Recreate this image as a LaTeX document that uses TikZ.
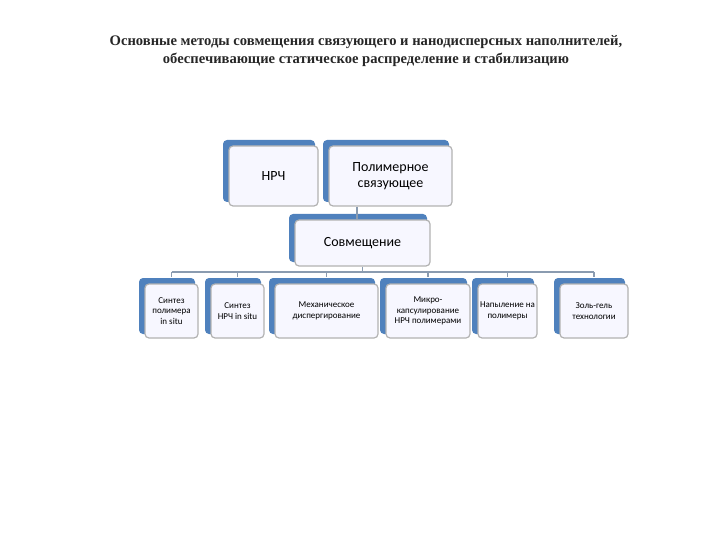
\documentclass[tikz,border=0pt]{standalone}
\usepackage{fontspec}
\setmainfont{Liberation Serif}
\newfontfamily\boxfont{Carlito}
\definecolor{backblue}{HTML}{4F81BD}
\definecolor{lineg}{HTML}{8A9BB0}
\begin{document}
\begin{tikzpicture}[x=1pt,y=-1pt,
 back/.style={fill=backblue, rounded corners=4pt},
 front/.style={draw=gray!60, line width=1.2pt, fill=blue!3, rounded corners=4pt, align=center, font=\boxfont, inner sep=1pt},
 conn/.style={draw=lineg, line width=1.2pt}]
\useasboundingbox (0,0) rectangle (720,540);
\node[font=\bfseries\fontsize{14.6}{18}\selectfont, align=center, text=black!85] (title) at (366,51)
 {Основные методы совмещения связующего и нанодисперсных наполнителей,\\ обеспечивающие статическое распределение и стабилизацию};
\newcommand\mybox[7]{%
 \fill[back] (#1-6,#2-6) rectangle (#3-3,#4-4);
 \node[front, minimum width=#3-#1, minimum height=#4-#2, font=\boxfont#6] (#5) at ({(#1+#3)/2},{(#2+#4)/2}) {#7};}
\mybox{229}{146}{318}{206}{nrc}{\fontsize{14}{16}\selectfont}{НРЧ}
\mybox{329}{146}{452}{206}{pol}{\fontsize{14}{16}\selectfont}{Полимерное\\связующее}
\mybox{295}{220}{430}{266}{sov}{\fontsize{14}{16}\selectfont}{Совмещение}
\mybox{145}{284}{198}{338}{b1}{\fontsize{9}{10.5}\selectfont}{Синтез\\полимера\\in situ}
\mybox{211}{284}{264}{338}{b2}{\fontsize{9}{10.5}\selectfont}{Синтез\\НРЧ in situ}
\mybox{275}{284}{378}{338}{b3}{\fontsize{9}{10.5}\selectfont}{Механическое\\диспергирование}
\mybox{386}{284}{470}{338}{b4}{\fontsize{9}{10.5}\selectfont}{Микро-\\капсулирование\\НРЧ полимерами}
\mybox{478}{284}{537}{338}{b5}{\fontsize{9}{10.5}\selectfont}{Напыление на\\полимеры}
\mybox{560}{284}{628}{338}{b6}{\fontsize{9}{10.5}\selectfont}{Золь-гель\\технологии}
\coordinate (bus) at (0,272);
\draw[conn] (pol.south -| 357,0) -- ++(0,7) -- (sov.north -| 357,0);
\draw[conn] (sov.south) -- (sov.south |- bus);
\draw[conn] (b1.north |- bus) -- (b6.north |- bus);
\foreach \b in {b1,b2,b3,b4,b5,b6} \draw[conn] (\b.north |- bus) -- ++(0,5);
\end{tikzpicture}
\end{document}
